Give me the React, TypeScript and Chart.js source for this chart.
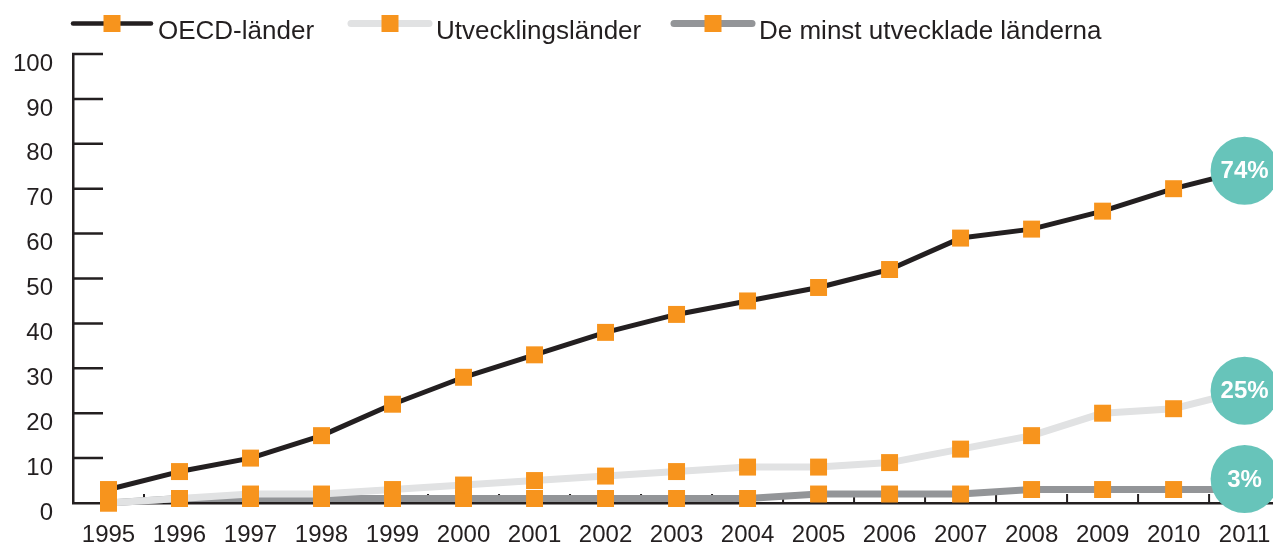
import React, { useEffect, useRef } from 'react';
import { Chart, registerables } from 'chart.js';

Chart.register(...registerables);

const years = [1995, 1996, 1997, 1998, 1999, 2000, 2001, 2002, 2003, 2004, 2005, 2006, 2007, 2008, 2009, 2010, 2011];
const oecd = [3, 7, 10, 15, 22, 28, 33, 38, 42, 45, 48, 52, 59, 61, 65, 70, 74];
const developing = [0, 1, 2, 2, 3, 4, 5, 6, 7, 8, 8, 9, 12, 15, 20, 21, 25];
const leastDeveloped = [0, 1, 1, 1, 1, 1, 1, 1, 1, 1, 2, 2, 2, 3, 3, 3, 3];
const seriesNames = ['OECD-länder', 'Utvecklingsländer', 'De minst utvecklade länderna'];
const yTickValues = [0, 10, 20, 30, 40, 50, 60, 70, 80, 90, 100];

const FONT = "'Liberation Sans', Arial, Helvetica, sans-serif";
const TEXT = '#231F20';
const ORANGE = '#F7941D';
const TEAL = '#67C4BA';

const seriesStyles = [
  { color: '#231F20', width: 5, legendWidth: 4.5 },
  { color: '#E1E2E3', width: 7, legendWidth: 7 },
  { color: '#939598', width: 7, legendWidth: 7 },
];
const legendStarts = [71, 349, 672];

export default function App() {
  const ref = useRef<HTMLCanvasElement>(null);

  useEffect(() => {
    const canvas = ref.current;
    if (!canvas) return;
    const values = [oecd, developing, leastDeveloped];
    const mk = (vals: number[]) => years.map((x, i) => ({ x, y: vals[i] }));

    const pointSets = values.map((v, k) => ({
      type: 'line' as const,
      label: seriesNames[k] + ' punkter',
      data: mk(v),
      showLine: false,
      pointStyle: 'rect' as const,
      pointRadius: 12,
      pointHoverRadius: 12,
      pointBackgroundColor: ORANGE,
      pointBorderWidth: 0,
      clip: false as any,
    }));
    const lineSets = values.map((v, k) => ({
      type: 'line' as const,
      label: seriesNames[k],
      data: mk(v),
      borderColor: seriesStyles[k].color,
      borderWidth: seriesStyles[k].width,
      borderJoinStyle: 'round' as const,
      borderCapStyle: 'round' as const,
      pointRadius: 0,
      tension: 0,
      fill: false,
      clip: false as any,
    }));

    const decorations = {
      id: 'decorations',
      beforeDatasetsDraw(chart: any) {
        const { ctx, chartArea, scales } = chart;
        ctx.save();
        ctx.strokeStyle = TEXT;
        ctx.lineWidth = 2.5;
        ctx.beginPath();
        yTickValues.forEach((v) => {
          if (v === 0) return;
          const p = scales.y.getPixelForValue(v);
          ctx.moveTo(chartArea.left - 1, p);
          ctx.lineTo(chartArea.left + 30, p);
        });
        ctx.stroke();
        ctx.lineWidth = 2;
        ctx.beginPath();
        for (let i = 0; i < years.length - 1; i++) {
          const x = scales.x.getPixelForValue(years[i] + 0.5);
          ctx.moveTo(x, chartArea.bottom);
          ctx.lineTo(x, chartArea.bottom - 9);
        }
        ctx.stroke();
        ctx.restore();
      },
      afterDatasetsDraw(chart: any) {
        const { ctx, chartArea } = chart;
        const r = 34;
        ctx.save();
        values.forEach((v, k) => {
          const meta = chart.getDatasetMeta(3 + k);
          const el = meta.data[meta.data.length - 1];
          const cx = el.x;
          const cy = Math.min(el.y, chartArea.bottom + 10 - r);
          ctx.fillStyle = TEAL;
          ctx.beginPath();
          ctx.arc(cx, cy, r, 0, Math.PI * 2);
          ctx.fill();
          ctx.fillStyle = '#FFFFFF';
          ctx.font = `bold 24px ${FONT}`;
          ctx.textAlign = 'center';
          ctx.textBaseline = 'middle';
          ctx.fillText(`${v[v.length - 1]}%`, cx, cy + 1);
        });
        ctx.restore();
      },
      afterDraw(chart: any) {
        const { ctx } = chart;
        ctx.save();
        const ly = 23.5;
        seriesNames.forEach((name, k) => {
          const x0 = legendStarts[k];
          ctx.strokeStyle = seriesStyles[k].color;
          ctx.lineWidth = seriesStyles[k].legendWidth;
          ctx.lineCap = 'round';
          ctx.beginPath();
          ctx.moveTo(x0 + 2, ly);
          ctx.lineTo(x0 + 80, ly);
          ctx.stroke();
          ctx.fillStyle = ORANGE;
          ctx.fillRect(x0 + 41 - 8.5, ly - 8.5, 17, 17);
          ctx.fillStyle = TEXT;
          ctx.font = `26px ${FONT}`;
          ctx.textAlign = 'left';
          ctx.textBaseline = 'alphabetic';
          ctx.fillText(name, x0 + 87, 39);
        });
        ctx.restore();
      },
    };

    const chart = new Chart(canvas, {
      type: 'line',
      data: { datasets: [...pointSets, ...lineSets] as any },
      options: {
        animation: false,
        responsive: true,
        maintainAspectRatio: false,
        layout: { autoPadding: false, padding: { top: 54, left: 0, right: 0, bottom: 0 } },
        plugins: { legend: { display: false }, tooltip: { enabled: false } },
        scales: {
          x: {
            type: 'linear',
            min: 1994.5,
            max: 2011.4,
            grid: { display: false, drawTicks: false },
            border: { display: true, color: TEXT, width: 2.5 },
            ticks: {
              padding: 18,
              color: TEXT,
              font: { family: FONT, size: 24 },
              callback: (v: any) => String(v),
            },
            afterBuildTicks: (s: any) => {
              s.ticks = years.map((v) => ({ value: v }));
            },
            afterFit: (s: any) => {
              s.height = 43;
              s.paddingLeft = 0;
              s.paddingRight = 0;
            },
          },
          y: {
            min: 0,
            max: 100,
            grid: { display: false, drawTicks: false },
            border: { display: true, color: TEXT, width: 2.5 },
            ticks: {
              stepSize: 10,
              padding: 20,
              labelOffset: 10,
              color: TEXT,
              font: { family: FONT, size: 24 },
            },
            afterBuildTicks: (s: any) => {
              s.ticks = yTickValues.map((v) => ({ value: v }));
            },
            afterFit: (s: any) => {
              s.width = 73;
              s.paddingTop = 0;
              s.paddingBottom = 0;
            },
          },
        },
      },
      plugins: [decorations],
    });
    return () => chart.destroy();
  }, []);

  return (
    <div style={{ position: 'fixed', left: 0, top: 0, width: '1273px', height: '546px', background: '#fff' }}>
      <canvas ref={ref} />
    </div>
  );
}
